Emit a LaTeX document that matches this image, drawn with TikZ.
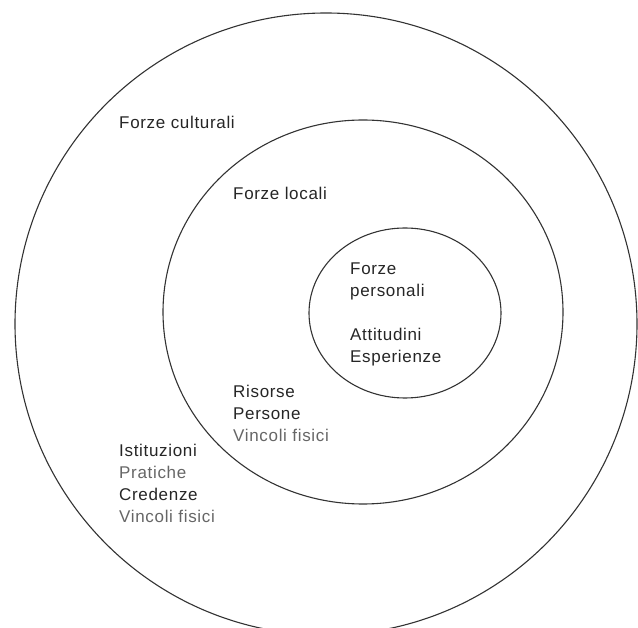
\documentclass[tikz,border=0pt]{standalone}
\usepackage{fontspec}
\setmainfont{Liberation Sans}[LetterSpace=4]
\tikzset{
  ring/.style={draw=black!80, line width=1.1pt},
  label/.style={anchor=north west, inner sep=0pt, align=left, text=black!85,
    font=\fontsize{17}{22}\selectfont},
}
\newcommand{\faint}[1]{\textcolor{black!60}{#1}}
\begin{document}
\begin{tikzpicture}[x=1pt, y=-1pt]
\useasboundingbox (0,0) rectangle (638,628);
\clip (0,0) rectangle (638,628);
\fill[white] (0,0) rectangle (638,628);
% the three rings
\draw[ring] (326,324) ellipse (311 and 311);
\draw[ring] (363,312) ellipse (200 and 192);
\draw[ring] (405,313) ellipse (96 and 85);
% texts
\node[label] (culturali) at (119,115.8) {Forze culturali};
\node[label] (locali) at (233,186.8) {Forze locali};
\node[label] (personali) at (350,262.8) {Forze\\personali\\[22pt]Attitudini\\Esperienze};
\node[label] (risorse) at (233,384.8) {Risorse\\Persone\\\faint{Vincoli fisici}};
\node[label] (istituzioni) at (119,443.8) {Istituzioni\\\faint{Pratiche}\\Credenze\\\faint{Vincoli fisici}};
\end{tikzpicture}
\end{document}
